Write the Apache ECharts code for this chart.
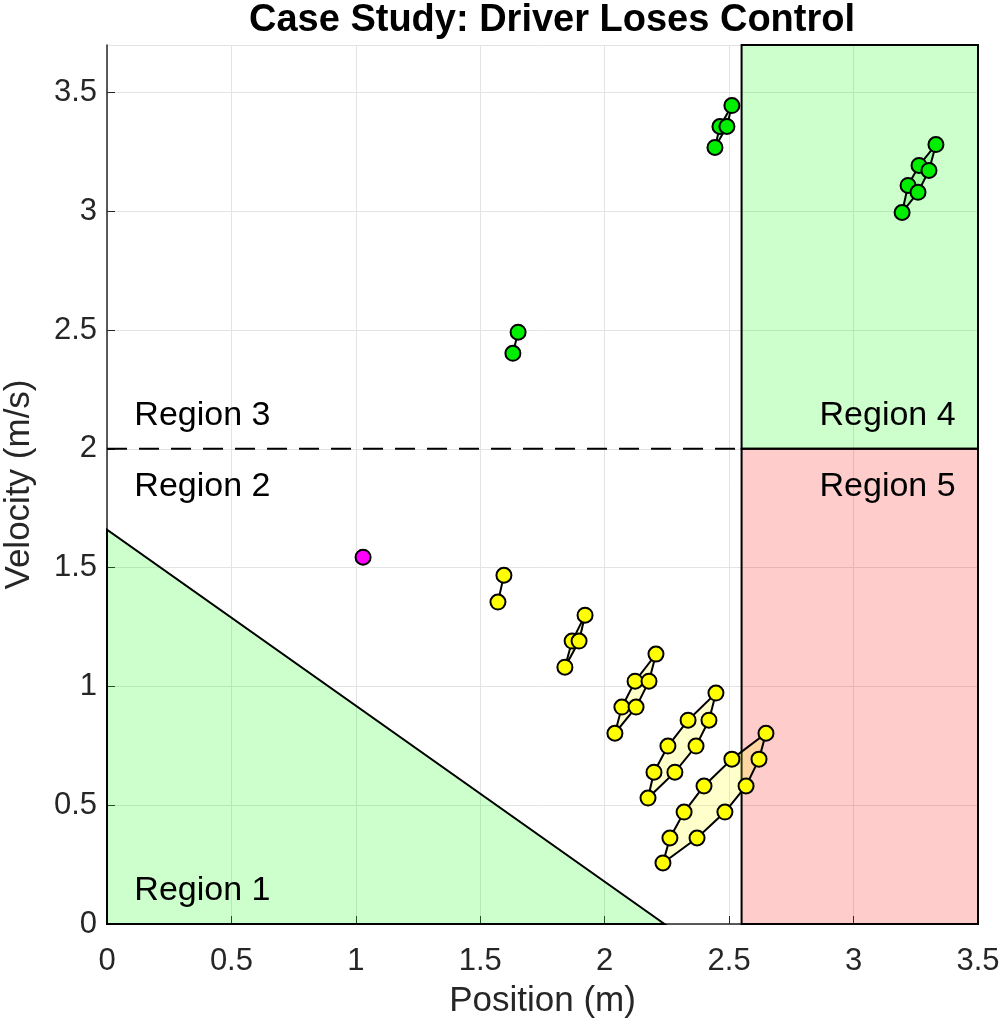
<!DOCTYPE html>
<html>
<head>
<meta charset="utf-8">
<script src="https://cdn.jsdelivr.net/npm/echarts@6/dist/echarts.min.js"></script>
<style>
  html, body { margin: 0; padding: 0; background: #fff; }
  #chart { width: 1006px; height: 1023px; }
</style>
</head>
<body>
<div id="chart"></div>
<script>
// axis ticks
const xTicks = [0, 0.5, 1, 1.5, 2, 2.5, 3, 3.5];
const yTicks = [0, 0.5, 1, 1.5, 2, 2.5, 3, 3.5];

// shaded regions (polygon vertices in data units)
const region1 = [[0, 0], [0, 1.66], [2.24, 0]];
const region4 = [[2.55, 2], [3.5, 2], [3.5, 3.7], [2.55, 3.7]];
const region5 = [[2.55, 0], [3.5, 0], [3.5, 2], [2.55, 2]];
const boundaryLine = [[0, 2], [2.55, 2]];

// region labels: [x, y, text]
const regionLabels = [
  [0.11, 0.14, 'Region 1'],
  [0.11, 1.84, 'Region 2'],
  [0.11, 2.14, 'Region 3'],
  [3.41, 2.14, 'Region 4'],
  [3.41, 1.84, 'Region 5']
];

// reachable sets (yellow) - vertices in outline order
const yellowSets = [
  [[1.571, 1.355], [1.595, 1.468]],
  [[1.840, 1.081], [1.869, 1.191], [1.921, 1.300], [1.897, 1.191]],
  [[2.041, 0.803], [2.069, 0.913], [2.122, 1.022], [2.206, 1.136], [2.178, 1.022], [2.126, 0.913]],
  [[2.174, 0.530], [2.198, 0.639], [2.254, 0.749], [2.335, 0.858], [2.447, 0.972], [2.419, 0.858], [2.367, 0.749], [2.282, 0.639]],
  [[2.234, 0.257], [2.262, 0.362], [2.319, 0.471], [2.399, 0.581], [2.511, 0.694], [2.648, 0.803], [2.620, 0.694], [2.568, 0.581], [2.483, 0.471], [2.371, 0.362]]
];

// reachable sets (green)
const greenSets = [
  [[1.631, 2.402], [1.652, 2.491]],
  [[2.443, 3.269], [2.463, 3.357], [2.511, 3.445], [2.491, 3.357]],
  [[3.195, 2.995], [3.219, 3.109], [3.263, 3.193], [3.331, 3.281], [3.303, 3.172], [3.259, 3.080]]
];

// initial state
const startPoint = [[1.029, 1.544]];

const FONT = 'Liberation Sans, Arial, Helvetica, sans-serif';

const chart = echarts.init(document.getElementById('chart'));

function polySeries(name, polys, fill, stroke, z) {
  return {
    name: name,
    type: 'custom',
    coordinateSystem: 'cartesian2d',
    z: z,
    silent: true,
    data: polys.map((p, i) => [p[0][0], p[0][1], i]),
    renderItem: function (params, api) {
      const pts = polys[params.dataIndex].map(p => api.coord(p));
      return {
        type: 'polygon',
        shape: { points: pts },
        style: { fill: fill, stroke: stroke, lineWidth: 2 }
      };
    }
  };
}

function dots(name, sets, color) {
  const pts = [];
  sets.forEach(s => s.forEach(p => pts.push(p)));
  return {
    name: name,
    type: 'scatter',
    z: 5,
    symbol: 'circle',
    symbolSize: 15,
    itemStyle: { color: color, borderColor: '#000', borderWidth: 2, opacity: 1 },
    data: pts
  };
}

chart.setOption({
  animation: false,
  backgroundColor: '#fff',
  title: {
    text: 'Case Study: Driver Loses Control',
    left: 547,
    top: -3,
    textAlign: 'center',
    textStyle: { fontFamily: FONT, fontWeight: 'bold', fontSize: 38, color: '#000' }
  },
  grid: { left: 107, right: 28, top: 45, bottom: 99, outerBoundsMode: 'none', containLabel: false },
  xAxis: {
    type: 'value',
    min: 0,
    max: 3.5,
    interval: 0.5,
    name: 'Position (m)',
    nameLocation: 'middle',
    nameGap: 60,
    nameTextStyle: { fontFamily: FONT, fontSize: 35, color: '#262626' },
    axisLine: { onZero: false, lineStyle: { color: '#262626', width: 1.5 } },
    axisTick: { inside: true, length: 8, lineStyle: { color: '#262626' } },
    axisLabel: {
      fontFamily: FONT, fontSize: 31, color: '#262626', margin: 22,
      formatter: v => xTicks.includes(v) ? String(v) : ''
    },
    splitLine: { show: true, lineStyle: { color: '#e3e3e3', width: 1 } }
  },
  yAxis: {
    type: 'value',
    min: 0,
    max: 3.7,
    interval: 0.5,
    name: 'Velocity (m/s)',
    nameLocation: 'middle',
    nameGap: 70,
    nameTextStyle: { fontFamily: FONT, fontSize: 35, color: '#262626' },
    axisLine: { onZero: false, lineStyle: { color: '#262626', width: 1.5 } },
    axisTick: { inside: true, length: 8, lineStyle: { color: '#262626' } },
    axisLabel: {
      fontFamily: FONT, fontSize: 31, color: '#262626', margin: 10,
      showMaxLabel: false,
      formatter: v => yTicks.includes(v) ? String(v) : ''
    },
    splitLine: { show: true, lineStyle: { color: '#e3e3e3', width: 1 } }
  },
  series: [
    polySeries('Region 1', [region1], 'rgba(0,255,0,0.2)', '#000', 1),
    polySeries('Region 4', [region4], 'rgba(0,255,0,0.2)', '#000', 1),
    polySeries('Region 5', [region5], 'rgba(255,0,0,0.2)', '#000', 1),
    {
      name: 'boundary',
      type: 'line',
      z: 2,
      symbol: 'none',
      lineStyle: { color: '#000', width: 2, type: [20, 12] },
      data: boundaryLine
    },
    polySeries('yellow sets', yellowSets, 'rgba(255,255,0,0.2)', '#000', 3),
    polySeries('green sets', greenSets, 'rgba(0,255,0,0.2)', '#000', 3),
    dots('yellow points', yellowSets, '#ffff00'),
    dots('green points', greenSets, '#00ee00'),
    dots('start', [startPoint], '#ff00ff'),
    {
      name: 'labels',
      type: 'custom',
      coordinateSystem: 'cartesian2d',
      z: 6,
      silent: true,
      data: regionLabels,
      renderItem: function (params, api) {
        const r = regionLabels[params.dataIndex];
        const pt = api.coord([r[0], r[1]]);
        return {
          type: 'text',
          x: pt[0],
          y: pt[1],
          style: {
            text: r[2],
            align: r[0] > 2 ? 'right' : 'left',
            verticalAlign: 'middle',
            fontFamily: FONT,
            fontSize: 34,
            fill: '#000'
          }
        };
      }
    }
  ]
});
</script>
</body>
</html>
